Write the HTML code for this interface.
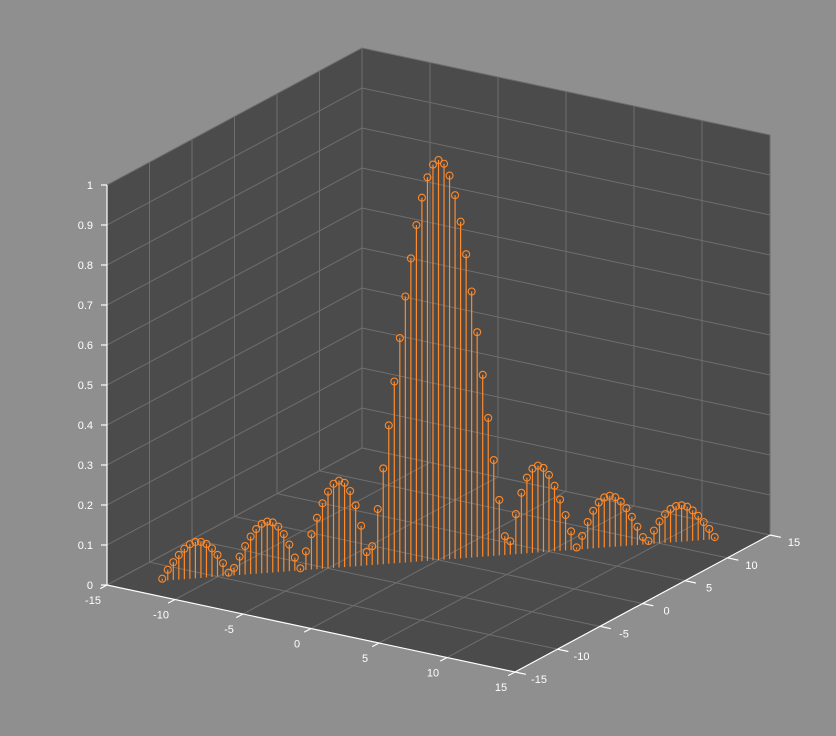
<!DOCTYPE html>
<html><head><meta charset="utf-8"><style>
html,body{margin:0;padding:0;background:#8f8f8f;}
svg{display:block;font-family:"Liberation Sans",sans-serif;}
</style></head><body>
<svg id="chart" width="836" height="736" viewBox="0 0 836 736" xmlns="http://www.w3.org/2000/svg">
<rect width="836" height="736" fill="#8f8f8f"/>
<g id="box"></g><g id="grid"></g><g id="axes"></g><g id="stems"></g>
</svg>
<script>
const xTicks=[-15,-10,-5,0,5,10,15];
const yTicks=[-15,-10,-5,0,5,10,15];
const zTicks=[0,0.1,0.2,0.3,0.4,0.5,0.6,0.7,0.8,0.9,1];
const zTickLabels=["0","0.1","0.2","0.3","0.4","0.5","0.6","0.7","0.8","0.9","1"];
const halfPos=[0,0.25,0.5,0.75,1,1.25,1.5,1.75,2,2.25,2.5,2.75,3,3.25,3.5,3.75,4,4.25,4.5,4.75,5,5.25,5.5,5.75,6,6.25,6.5,6.75,7,7.25,7.5,7.75,8,8.25,8.5,8.75,9,9.25,9.5,9.75,10,10.25,10.5,10.75,11,11.25,11.5,11.75,12,12.25,12.5];
const halfVal=[1,0.9896,0.9589,0.9089,0.8415,0.7592,0.665,0.5623,0.4546,0.3458,0.2394,0.1388,0.047,0.0333,0.1002,0.1524,0.1892,0.2106,0.2172,0.2104,0.1918,0.1636,0.1283,0.0884,0.0466,0.0053,0.0331,0.0667,0.0939,0.1136,0.1251,0.1283,0.1237,0.1118,0.0939,0.0714,0.0458,0.0188,0.0079,0.0328,0.0544,0.0718,0.0838,0.0901,0.0909,0.0863,0.0761,0.0615,0.0447,0.0267,0.0053];
const NS="http://www.w3.org/2000/svg";
function P(x,y,z){return [438.5+13.6*x+8.5*y, 560+2.9*x-4.567*y-400*z];}
function mk(parent,tag,attrs){const e=document.createElementNS(NS,tag);for(const k in attrs)e.setAttribute(k,attrs[k]);document.getElementById(parent).appendChild(e);return e;}
function line(parent,a,b,stroke,w){return mk(parent,'line',{x1:a[0],y1:a[1],x2:b[0],y2:b[1],stroke:stroke,'stroke-width':w});}
// box
const pts=[P(-15,-15,0),P(-15,-15,1),P(-15,15,1),P(15,15,1),P(15,15,0),P(15,-15,0)];
const poly=mk('box','polygon',{points:pts.map(p=>p.join(',')).join(' '),fill:'#4b4b4b'});


const gc='#6e6e6e';
// floor grid
xTicks.forEach(x=>{const l=line('grid',P(x,-15,0),P(x,15,0),gc,1);});
yTicks.forEach(y=>{const l=line('grid',P(-15,y,0),P(15,y,0),gc,1);});
// left wall x=-15
yTicks.forEach(y=>{const l=line('grid',P(-15,y,0),P(-15,y,1),gc,1);});
// back wall y=15
xTicks.forEach(x=>{const l=line('grid',P(x,15,0),P(x,15,1),gc,1);});
zTicks.forEach(z=>{
 const l1=line('grid',P(-15,-15,z),P(-15,15,z),gc,1);
 const l2=line('grid',P(-15,15,z),P(15,15,z),gc,1);
});
// axes lines
const ax=line('axes',P(-15,-15,0),P(15,-15,0),'#ffffff',1.2);
const ay=line('axes',P(15,-15,0),P(15,15,0),'#ffffff',1.2);
const az=line('axes',P(-15,-15,0),P(-15,-15,1),'#ffffff',1.2);
xTicks.forEach(x=>{
 const a=P(x,-15,0);const b=P(x,-14.2,0);
 const t=line('axes',a,[2*a[0]-b[0]-(x==-15?0:0),2*a[1]-b[1]],'#ffffff',1.2);
 const tx=mk('axes','text',{x:a[0]-14,y:a[1]+19,fill:'#ffffff','font-size':'11','text-anchor':'middle'});tx.textContent=String(x);
 
});
yTicks.forEach(y=>{
 const a=P(15,y,0);const b=P(14.2,y,0);
 const t=line('axes',a,[2*a[0]-b[0],2*a[1]-b[1]],'#ffffff',1.2);
 const tx=mk('axes','text',{x:a[0]+24,y:a[1]+11,fill:'#ffffff','font-size':'11','text-anchor':'middle'});tx.textContent=String(y);
 
});
zTicks.forEach((z,i)=>{
 const a=P(-15,-15,z);
 const t=line('axes',a,[a[0]-6,a[1]],'#ffffff',1.2);
 const tx=mk('axes','text',{x:a[0]-14,y:a[1]+4,fill:'#ffffff','font-size':'11','text-anchor':'end'});tx.textContent=zTickLabels[i];
 
});
// stems
const us=[],zs=[];
for(let i=halfPos.length-1;i>0;i--){us.push(-halfPos[i]);zs.push(halfVal[i]);}
for(let i=0;i<halfPos.length;i++){us.push(halfPos[i]);zs.push(halfVal[i]);}
const col='#ff8a2a';
us.forEach((u,i)=>{
 const b=P(u,u,0),t=P(u,u,zs[i]);
 const l=line('stems',b,t,col,1.2);
 
 
 const c=mk('stems','circle',{cx:t[0],cy:t[1],r:3.5,fill:'none',stroke:col,'stroke-width':1.1});
 
 
});
</script>
</body></html>
